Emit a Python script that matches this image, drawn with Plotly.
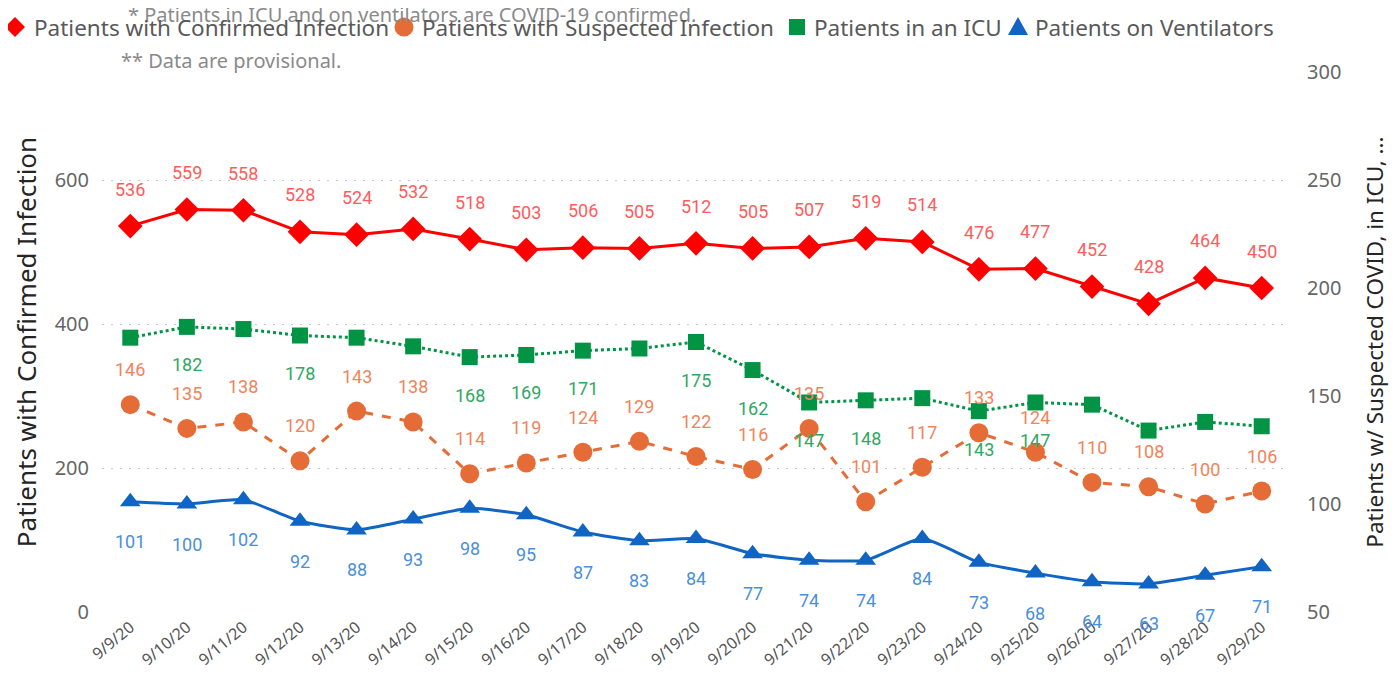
import plotly.graph_objects as go

dates = ["9/9/20", "9/10/20", "9/11/20", "9/12/20", "9/13/20", "9/14/20", "9/15/20",
         "9/16/20", "9/17/20", "9/18/20", "9/19/20", "9/20/20", "9/21/20", "9/22/20",
         "9/23/20", "9/24/20", "9/25/20", "9/26/20", "9/27/20", "9/28/20", "9/29/20"]
confirmed = [536, 559, 558, 528, 524, 532, 518, 503, 506, 505, 512, 505, 507, 519,
             514, 476, 477, 452, 428, 464, 450]
suspected = [146, 135, 138, 120, 143, 138, 114, 119, 124, 129, 122, 116, 135, 101,
             117, 133, 124, 110, 108, 100, 106]
icu = [177, 182, 181, 178, 177, 173, 168, 169, 171, 172, 175, 162, 147, 148,
       149, 143, 147, 146, 134, 138, 136]
icu_label_shown = [False, True, False, True, False, False, True, True, True, False, True,
                   True, True, True, False, True, True, False, False, False, False]
ventilators = [101, 100, 102, 92, 88, 93, 98, 95, 87, 83, 84, 77, 74, 74,
               84, 73, 68, 64, 63, 67, 71]
series_names = ["Patients with Confirmed Infection", "Patients with Suspected Infection",
                "Patients in an ICU", "Patients on Ventilators"]

RED, ORANGE, GREEN, BLUE = "#FF0000", "#E66C37", "#009444", "#0F64C4"
RED_L, ORANGE_L, GREEN_L, BLUE_L = "#FF5C5C", "#F0845A", "#2FA862", "#4A8FDB"

# figure is placed by the page with an 8px body margin
W, H, OFF = 1399, 677, 8
PL, PR, PT, PB = 102, 1290, 72, 612   # plot area in window pixels


def px(x):
    return (x - PL) / (PR - PL)


def py(y):
    return (PB - y) / (PB - PT)


fig = go.Figure()
fig.add_trace(go.Scatter(x=dates, y=confirmed, mode="lines+markers", yaxis="y", name=series_names[0],
                         line=dict(color=RED, width=3),
                         marker=dict(symbol="diamond", size=19, color=RED)))
fig.add_trace(go.Scatter(x=dates, y=suspected, mode="lines+markers", yaxis="y2", name=series_names[1],
                         line=dict(color=ORANGE, width=3, dash="dash"),
                         marker=dict(symbol="circle", size=19, color=ORANGE)))
fig.add_trace(go.Scatter(x=dates, y=icu, mode="lines+markers", yaxis="y2", name=series_names[2],
                         line=dict(color=GREEN, width=3, dash="dot"),
                         marker=dict(symbol="square", size=16, color=GREEN)))
fig.add_trace(go.Scatter(x=dates, y=ventilators, mode="lines+markers", yaxis="y2", name=series_names[3],
                         line=dict(color=BLUE, width=3, shape="spline", smoothing=0.5),
                         marker=dict(symbol="triangle-up", size=18, color=BLUE)))

lab_font = "Roboto"
for i, d in enumerate(dates):
    fig.add_annotation(x=d, y=confirmed[i], yref="y", text=str(confirmed[i]), showarrow=False,
                       yshift=37, font=dict(family=lab_font, size=18, color=RED_L))
    fig.add_annotation(x=d, y=suspected[i], yref="y2", text=str(suspected[i]), showarrow=False,
                       yshift=35, font=dict(family=lab_font, size=18, color=ORANGE_L))
    if icu_label_shown[i]:
        fig.add_annotation(x=d, y=icu[i], yref="y2", text=str(icu[i]), showarrow=False,
                           yshift=-38, font=dict(family=lab_font, size=18, color=GREEN_L))
    fig.add_annotation(x=d, y=ventilators[i], yref="y2", text=str(ventilators[i]), showarrow=False,
                       yshift=-40, font=dict(family=lab_font, size=18, color=BLUE_L))

# notes
fig.add_annotation(xref="paper", yref="paper", x=px(126), y=py(15), xanchor="left", yanchor="middle",
                   text="* Patients in ICU and on ventilators are COVID-19 confirmed.",
                   showarrow=False, font=dict(family="Noto Sans", size=20, color="#8A8A8A"))
fig.add_annotation(xref="paper", yref="paper", x=px(119), y=py(60), xanchor="left", yanchor="middle",
                   text="** Data are provisional.",
                   showarrow=False, font=dict(family="Noto Sans", size=20, color="#8A8A8A"))

# legend (symbol shapes + labels)
leg_y = 27
leg_items = [(15, 32, "diamond", RED), (404, 420, "circle", ORANGE),
             (797, 812, "square", GREEN), (1018, 1033, "triangle", BLUE)]
paths = {"diamond": "M0,10 L10,0 L0,-10 L-10,0 Z",
         "square": "M-8,-8 L8,-8 L8,8 L-8,8 Z",
         "triangle": "M-10,-8 L10,-8 L0,10 Z"}
for (sx, tx, sym, col), name in zip(leg_items, series_names):
    if sym == "circle":
        fig.add_shape(type="circle", xref="paper", yref="paper", xsizemode="pixel", ysizemode="pixel",
                      xanchor=px(sx), yanchor=py(leg_y), x0=-9.5, x1=9.5, y0=-9.5, y1=9.5,
                      fillcolor=col, line=dict(width=0), layer="above")
    else:
        fig.add_shape(type="path", xref="paper", yref="paper", xsizemode="pixel", ysizemode="pixel",
                      xanchor=px(sx), yanchor=py(leg_y), path=paths[sym],
                      fillcolor=col, line=dict(width=0), layer="above")
    fig.add_annotation(xref="paper", yref="paper", x=px(tx), y=py(leg_y), xanchor="left", yanchor="middle",
                       text=name, showarrow=False,
                       font=dict(family="Noto Sans", size=22.5, color="#595959"))

fig.update_layout(
    width=W - 2 * OFF, height=H - 2 * OFF,
    margin=dict(l=PL - OFF, r=(W - OFF) - PR, t=PT - OFF, b=(H - OFF) - PB, autoexpand=False),
    paper_bgcolor="white", plot_bgcolor="white",
    showlegend=False,
    font=dict(family="Noto Sans", color="#555555"),
    xaxis=dict(type="category", range=[-0.5, len(dates) - 0.5], tickangle=-40, showgrid=False,
               showline=False, zeroline=False, ticklabelstandoff=2,
               tickfont=dict(size=16, color="#555555"), ticks="", automargin=False),
    yaxis=dict(range=[0, 750], tickvals=[0, 200, 400, 600], showline=False, zeroline=False,
               gridcolor="#C8C8C8", griddash="2px,7px", gridwidth=1, automargin=False,
               tickfont=dict(size=20, color="#666666"), ticklabelstandoff=12,
               title=dict(text="Patients with Confirmed Infection", standoff=10,
                          font=dict(size=26, color="#252525"))),
    yaxis2=dict(range=[50, 300], tickvals=[50, 100, 150, 200, 250, 300], overlaying="y", side="right",
                showgrid=False, showline=False, zeroline=False, automargin=False,
                tickfont=dict(size=20, color="#666666"), ticklabelstandoff=16,
                title=dict(text="Patients w/ Suspected COVID, in ICU, ...", standoff=26,
                           font=dict(size=22.5, color="#252525"))),
)

fig.write_html("out.html")
